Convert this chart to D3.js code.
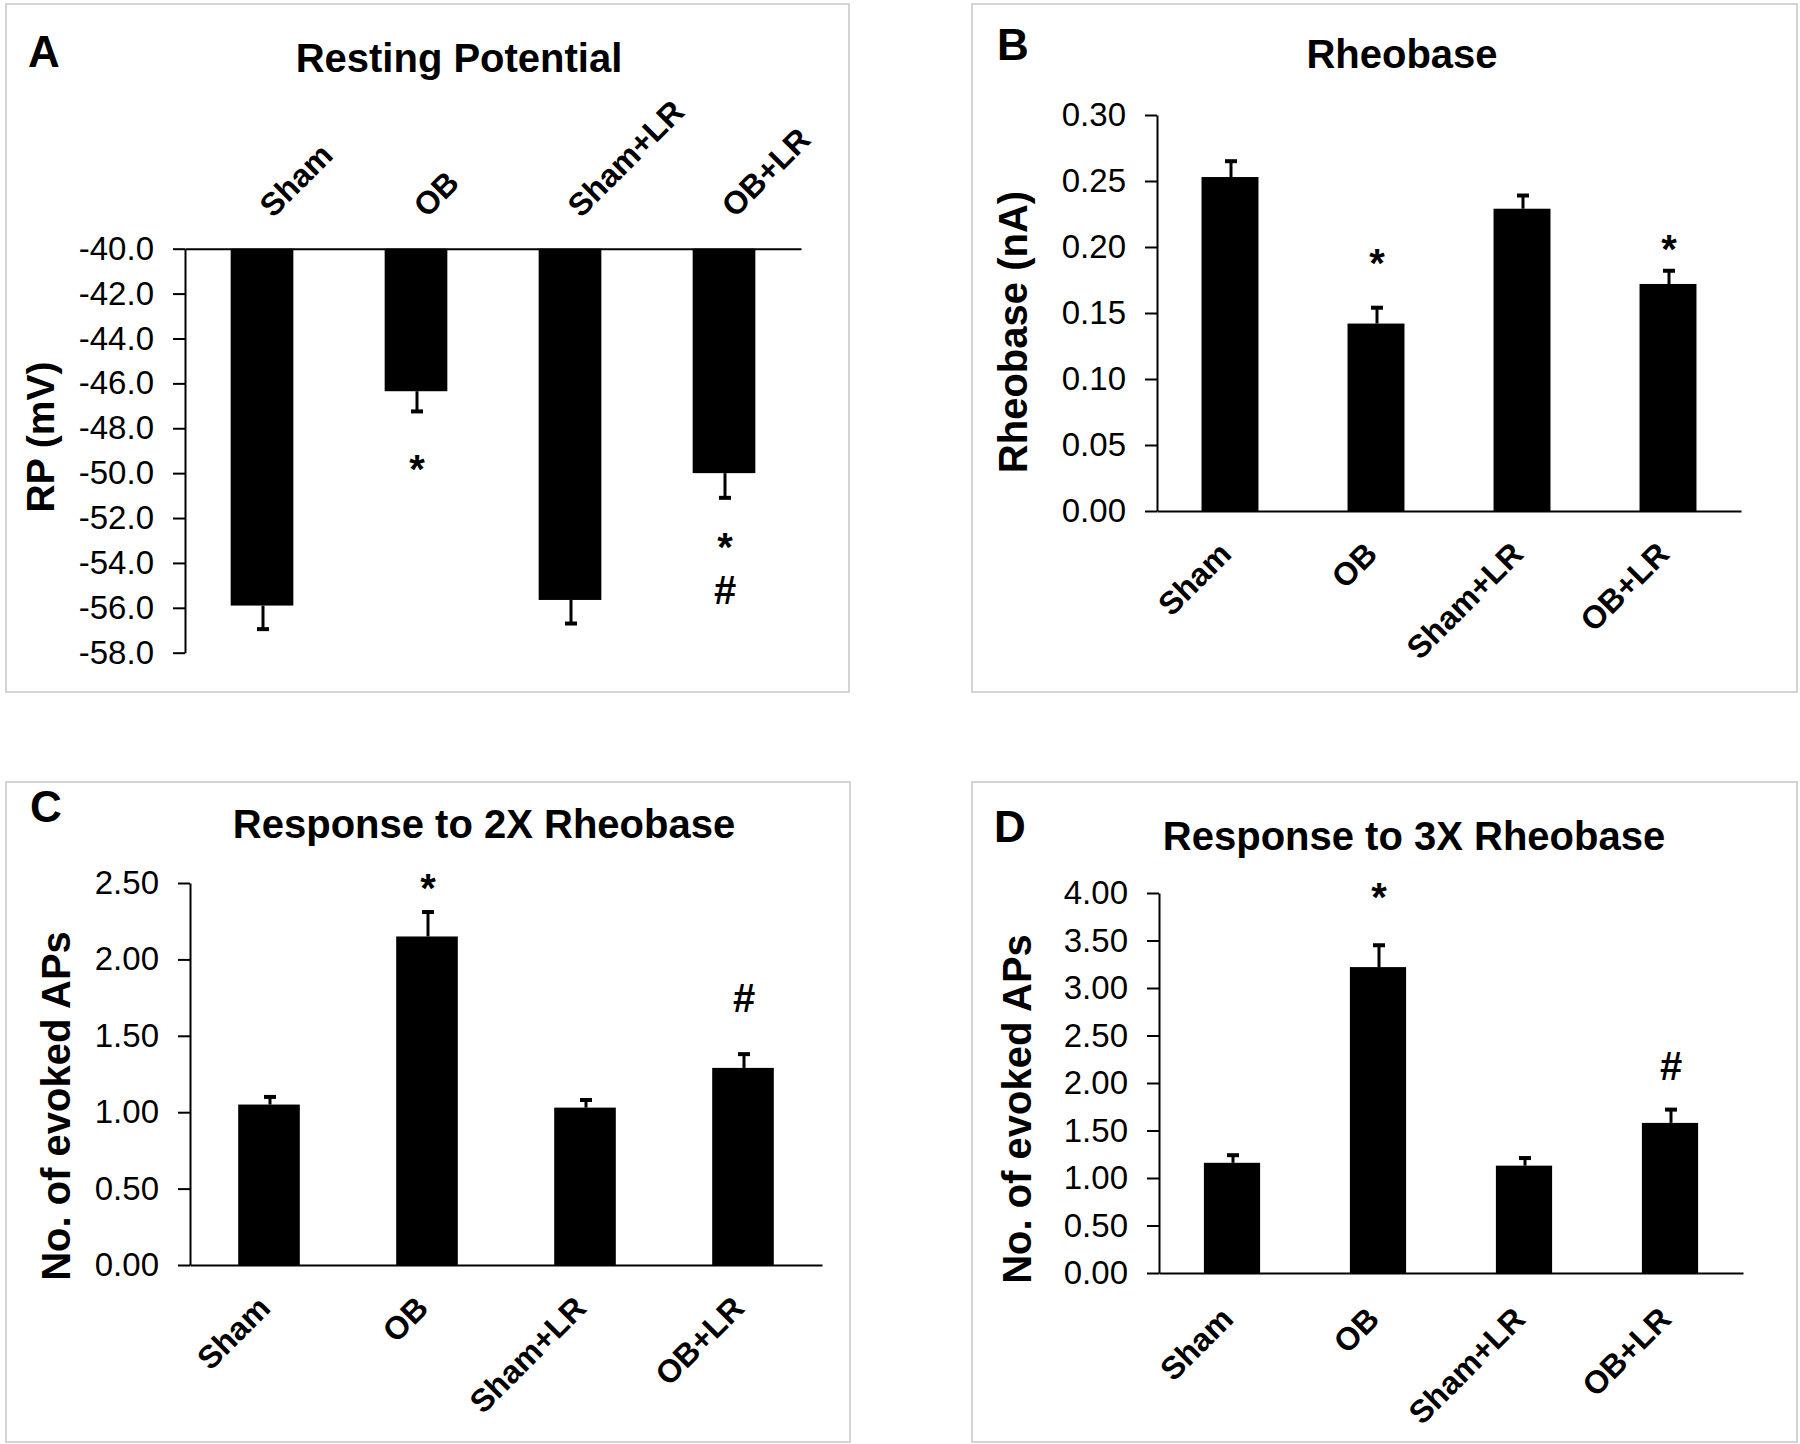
<!DOCTYPE html>
<html>
<head>
<meta charset="utf-8">
<script src="https://cdn.jsdelivr.net/npm/d3@7"></script>
<style>
  html, body { margin: 0; padding: 0; background: #fff; }
  svg { display: block; }
  text { font-family: "Liberation Sans", Arial, sans-serif; fill: #000; }
</style>
</head>
<body>
<svg id="chart" width="1800" height="1444"></svg>
<script>
// ---------------- data ----------------
const categories = ["Sham", "OB", "Sham+LR", "OB+LR"];

const rpMean = [-55.9, -46.35, -55.65, -50.0];
const rpErr  = [1.05, 0.9, 1.05, 1.1];
const rpTicks = [-40, -42, -44, -46, -48, -50, -52, -54, -56, -58];
const rpMarks = [[], [{t: "*", v: -49.45}], [], [{t: "*", v: -52.9}, {t: "#", v: -55.2}]];

const rheoMean = [0.253, 0.142, 0.229, 0.172];
const rheoErr  = [0.012, 0.012, 0.010, 0.010];
const rheoTicks = [0, 0.05, 0.10, 0.15, 0.20, 0.25, 0.30];
const rheoMarks = [[], [{t: "*", v: 0.194}], [], [{t: "*", v: 0.205}]];

const ap2Mean = [1.05, 2.15, 1.03, 1.29];
const ap2Err  = [0.05, 0.16, 0.05, 0.09];
const ap2Ticks = [0, 0.5, 1.0, 1.5, 2.0, 2.5];
const ap2Marks = [[], [{t: "*", v: 2.52}], [], [{t: "#", v: 1.747}]];

const ap3Mean = [1.16, 3.22, 1.13, 1.58];
const ap3Err  = [0.08, 0.23, 0.08, 0.14];
const ap3Ticks = [0, 0.5, 1.0, 1.5, 2.0, 2.5, 3.0, 3.5, 4.0];
const ap3Marks = [[], [{t: "*", v: 4.045}], [], [{t: "#", v: 2.18}]];

const panelLetters = ["A", "B", "C", "D"];
const panelTitles = ["Resting Potential", "Rheobase", "Response to 2X Rheobase", "Response to 3X Rheobase"];
const yTitles = ["RP (mV)", "Rheobase (nA)", "No. of evoked APs", "No. of evoked APs"];

// ---------------- drawing ----------------
const svg = d3.select("#chart");

function drawPanel(o) {
  const g = svg.append("g");
  // frame
  g.append("rect")
    .attr("x", o.box[0]).attr("y", o.box[1])
    .attr("width", o.box[2] - o.box[0]).attr("height", o.box[3] - o.box[1])
    .attr("fill", "none").attr("stroke", "#d4d4d4").attr("stroke-width", 2);

  const x = d3.scaleBand().domain(categories).range(o.xRange)
    .paddingInner(o.pad).paddingOuter(o.pad / 2);
  const y = d3.scaleLinear().domain(o.yDomain).range(o.yRange);
  const base = o.yDomain[0];

  // bars
  g.selectAll("rect.bar").data(o.mean).join("rect")
    .attr("class", "bar")
    .attr("x", (d, i) => x(categories[i]))
    .attr("width", x.bandwidth())
    .attr("y", d => Math.min(y(d), y(base)))
    .attr("height", d => Math.abs(y(d) - y(base)))
    .attr("fill", "#000");

  // error bars
  const dir = o.errDown ? -1 : 1;
  o.mean.forEach((m, i) => {
    const cx = x(categories[i]) + x.bandwidth() / 2 + 1;
    const end = m + dir * o.err[i];
    g.append("line").attr("x1", cx).attr("x2", cx)
      .attr("y1", y(m)).attr("y2", y(end))
      .attr("stroke", "#000").attr("stroke-width", 3);
    g.append("line").attr("x1", cx - 6).attr("x2", cx + 6)
      .attr("y1", y(end)).attr("y2", y(end))
      .attr("stroke", "#000").attr("stroke-width", 4);
  });

  // y axis
  const f = d3.format(o.fmt);
  const ya = g.append("g").attr("transform", `translate(${o.xRange[0]},0)`)
    .call(d3.axisLeft(y).tickValues(o.ticks).tickFormat(d => f(d).replace("\u2212", "-"))
      .tickSizeInner(12).tickSizeOuter(0).tickPadding(19));
  ya.select(".domain").attr("stroke", "#000").attr("stroke-width", 2);
  ya.selectAll(".tick line").attr("stroke", "#000").attr("stroke-width", 2);
  ya.selectAll(".tick text").attr("font-size", 33).attr("fill", "#111")
    .style("font-family", "'Liberation Sans', Arial, sans-serif");

  // x axis line (no ticks)
  const xa = g.append("g").attr("transform", `translate(0,${y(base)})`)
    .call(d3.axisBottom(x).tickSize(0).tickFormat(""));
  xa.select(".domain").attr("stroke", "#000").attr("stroke-width", 2);

  // category labels (rotated 45deg)
  categories.forEach((c, i) => {
    const cx = x(c) + x.bandwidth() / 2;
    if (o.labelsTop) {
      g.append("text")
        .attr("transform", `translate(${cx + 11},${y(base) - 30}) rotate(-45)`)
        .attr("text-anchor", "start")
        .attr("font-size", 32).attr("font-weight", "bold").text(c);
    } else {
      g.append("text")
        .attr("transform", `translate(${cx + 3},${y(base) + o.labelDrop}) rotate(-45)`)
        .attr("text-anchor", "end")
        .attr("font-size", 32).attr("font-weight", "bold").text(c);
    }
  });

  // significance marks
  o.marks.forEach((arr, i) => {
    const cx = x(categories[i]) + x.bandwidth() / 2 + 1;
    arr.forEach(mk => {
      const fs = mk.t === "*" ? 40 : 40;
      const off = mk.t === "*" ? 0.56 * fs : 0.36 * fs;
      g.append("text").attr("x", cx).attr("y", y(mk.v) + off)
        .attr("text-anchor", "middle").attr("font-size", fs)
        .attr("font-weight", "bold").text(mk.t);
    });
  });

  // titles
  g.append("text").attr("x", o.letter[0]).attr("y", o.letter[1])
    .attr("font-size", 44).attr("font-weight", "bold").text(o.letterText);
  g.append("text").attr("x", o.title[0]).attr("y", o.title[1])
    .attr("text-anchor", "middle").attr("font-size", 40).attr("font-weight", "bold").text(o.titleText);
  g.append("text")
    .attr("transform", `translate(${o.yTitle[0]},${o.yTitle[1]}) rotate(-90)`)
    .attr("text-anchor", "middle").attr("font-size", o.yTitleSize).attr("font-weight", "bold").text(o.yTitleText);
}

drawPanel({
  box: [6, 4, 849, 692], xRange: [185, 801], pad: 0.593,
  yDomain: [-40, -58], yRange: [248.7, 652.7],
  mean: rpMean, err: rpErr, errDown: true, ticks: rpTicks, fmt: ".1f",
  marks: rpMarks, labelsTop: true,
  letter: [28, 67], letterText: panelLetters[0],
  title: [459, 72], titleText: panelTitles[0],
  yTitle: [54, 437], yTitleText: yTitles[0], yTitleSize: 39
});

drawPanel({
  box: [972, 4, 1797, 692], xRange: [1157, 1741], pad: 0.61,
  yDomain: [0, 0.30], yRange: [511, 115],
  mean: rheoMean, err: rheoErr, errDown: false, ticks: rheoTicks, fmt: ".2f",
  marks: rheoMarks, labelsTop: false, labelDrop: 45,
  letter: [997, 60], letterText: panelLetters[1],
  title: [1402, 68], titleText: panelTitles[1],
  yTitle: [1027, 332], yTitleText: yTitles[1], yTitleSize: 40
});

drawPanel({
  box: [6, 782, 850, 1442], xRange: [190, 822], pad: 0.61,
  yDomain: [0, 2.5], yRange: [1265, 883],
  mean: ap2Mean, err: ap2Err, errDown: false, ticks: ap2Ticks, fmt: ".2f",
  marks: ap2Marks, labelsTop: false, labelDrop: 45,
  letter: [30, 822], letterText: panelLetters[2],
  title: [484, 838], titleText: panelTitles[2],
  yTitle: [70, 1106], yTitleText: yTitles[2], yTitleSize: 40
});

drawPanel({
  box: [972, 782, 1797, 1442], xRange: [1159, 1743], pad: 0.615,
  yDomain: [0, 4], yRange: [1273, 893],
  mean: ap3Mean, err: ap3Err, errDown: false, ticks: ap3Ticks, fmt: ".2f",
  marks: ap3Marks, labelsTop: false, labelDrop: 48,
  letter: [994, 842], letterText: panelLetters[3],
  title: [1414, 850], titleText: panelTitles[3],
  yTitle: [1031, 1109], yTitleText: yTitles[3], yTitleSize: 40
});
</script>
</body>
</html>
